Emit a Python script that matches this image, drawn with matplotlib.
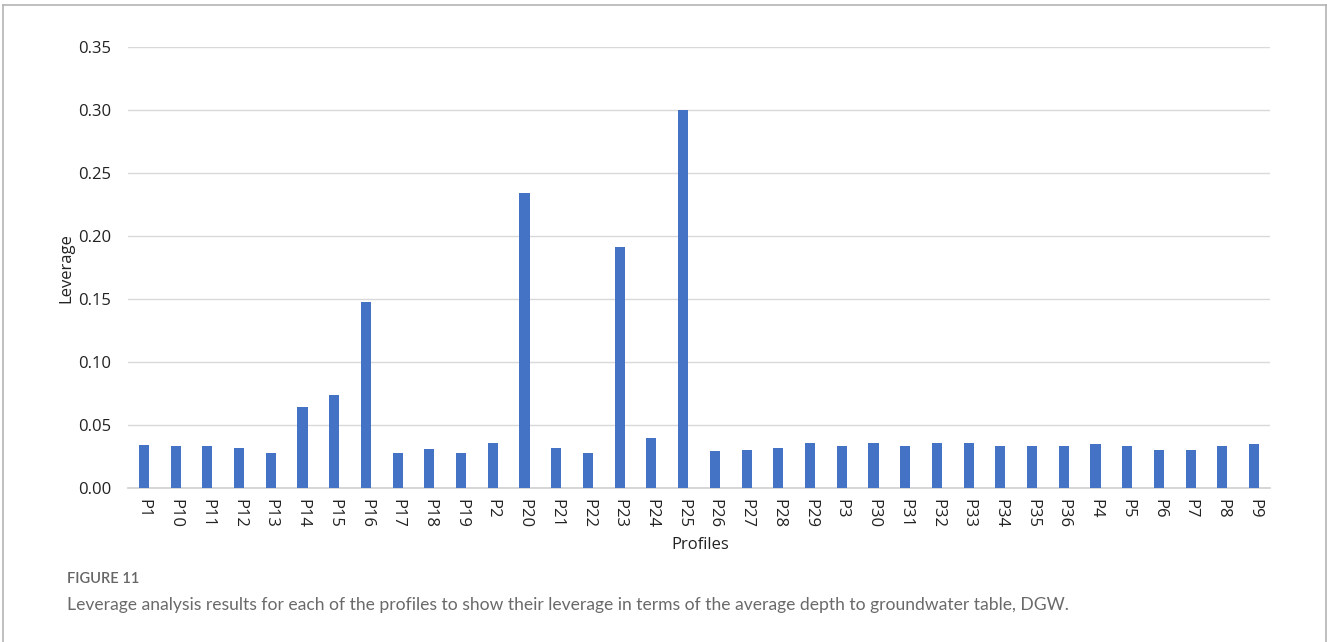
import matplotlib
matplotlib.use("Agg")
import matplotlib.pyplot as plt
from matplotlib.lines import Line2D

profiles = ["P1", "P10", "P11", "P12", "P13", "P14", "P15", "P16", "P17", "P18",
            "P19", "P2", "P20", "P21", "P22", "P23", "P24", "P25", "P26", "P27",
            "P28", "P29", "P3", "P30", "P31", "P32", "P33", "P34", "P35", "P36",
            "P4", "P5", "P6", "P7", "P8", "P9"]
leverage = [0.034, 0.033, 0.0335, 0.032, 0.028, 0.064, 0.074, 0.148, 0.028, 0.031,
            0.028, 0.036, 0.234, 0.032, 0.028, 0.191, 0.040, 0.300, 0.029, 0.030,
            0.032, 0.036, 0.0335, 0.036, 0.0335, 0.036, 0.036, 0.0335, 0.0335, 0.0335,
            0.035, 0.033, 0.030, 0.030, 0.033, 0.035]
yticks = [0.00, 0.05, 0.10, 0.15, 0.20, 0.25, 0.30, 0.35]

W, H = 1327, 642
fig = plt.figure(figsize=(W / 100, H / 100), dpi=100)
fig.patch.set_facecolor("white")

ax = fig.add_axes([128 / W, 1 - 488 / H, (1270 - 128) / W, (488 - 47) / H])
x = range(len(profiles))
ax.bar(x, leverage, width=0.32, color="#4472C4", zorder=3)

ax.set_xlim(-0.5, len(profiles) - 0.5)
ax.set_ylim(0, 0.35)
ax.set_yticks(yticks)
ax.set_yticklabels([f"{v:.2f}" for v in yticks])
ax.set_xticks(list(x))
ax.set_xticklabels(profiles, rotation=-90)

ax.grid(axis="y", color="#d9d9d9", linewidth=1.0, zorder=0)
ax.set_axisbelow(True)
for s in ["top", "right", "left"]:
    ax.spines[s].set_visible(False)
ax.spines["bottom"].set_color("#d0d0d0")
ax.spines["bottom"].set_linewidth(1.2)
ax.tick_params(axis="both", length=0, labelsize=12, colors="#222222")
ax.tick_params(axis="y", pad=12)
ax.tick_params(axis="x", pad=8)
for lab in ax.get_xticklabels() + ax.get_yticklabels():
    lab.set_family("Open Sans")

fig.text(66 / W, 1 - 268 / H, "Leverage", rotation=90, ha="center", va="center",
         fontsize=12, family="Open Sans", color="#222222")
fig.text(700 / W, 1 - 545 / H, "Profiles", ha="center", va="center",
         fontsize=12, family="Open Sans", color="#222222")

# caption below the chart
fig.text(67 / W, 1 - 579 / H, "FIGURE 11", ha="left", va="center",
         fontsize=10.5, family="Lato", color="#666666", fontweight="semibold")
fig.text(67 / W, 1 - 605 / H,
         "Leverage analysis results for each of the profiles to show their leverage "
         "in terms of the average depth to groundwater table, DGW.",
         ha="left", va="center", fontsize=12.6, family="Lato", color="#6a6a6a")

# light frame around the figure panel
frame_col = "#b4b4b4"
fig.add_artist(Line2D([3 / W, 1326 / W], [1 - 5 / H, 1 - 5 / H], color=frame_col, lw=1.2))
fig.add_artist(Line2D([3 / W, 3 / W], [0, 1 - 5 / H], color=frame_col, lw=1.2))
fig.add_artist(Line2D([1326 / W, 1326 / W], [0, 1 - 5 / H], color=frame_col, lw=1.2))

fig.savefig("out.png", dpi=100)
